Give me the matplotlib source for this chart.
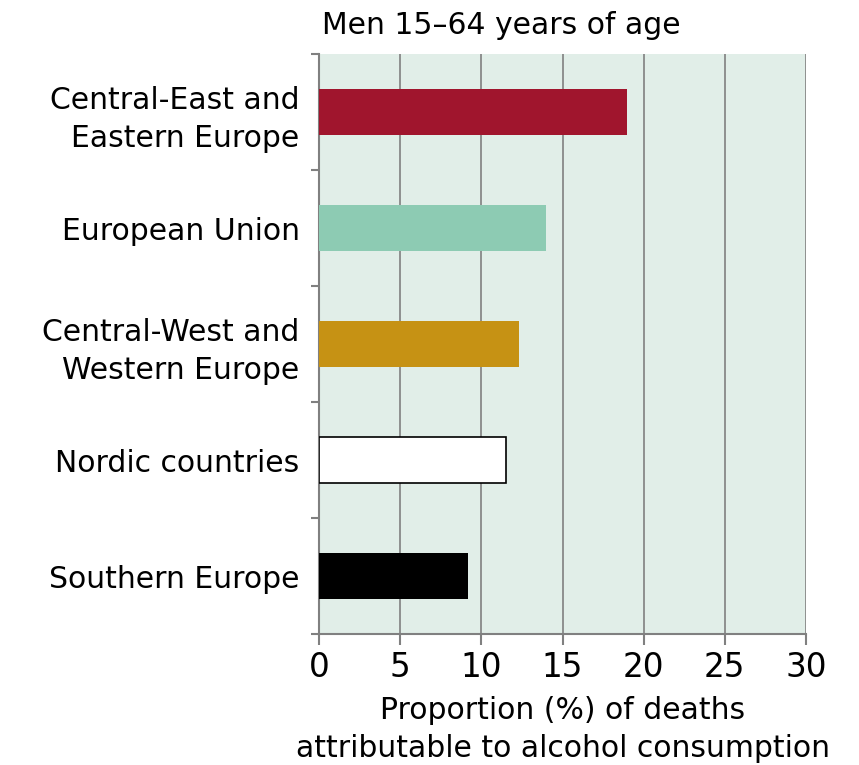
import matplotlib
matplotlib.use("Agg")
import matplotlib.pyplot as plt

categories = ["Central-East and\nEastern Europe", "European Union",
              "Central-West and\nWestern Europe", "Nordic countries", "Southern Europe"]
values = [19.0, 14.0, 12.3, 11.5, 9.2]
colors = ["#A0152D", "#8DCBB3", "#C69214", "#FFFFFF", "#000000"]
edges = ["none", "none", "none", "#000000", "none"]
xticks = [0, 5, 10, 15, 20, 25, 30]

fig = plt.figure(figsize=(8.59, 7.65), dpi=100)
ax = fig.add_axes([319/859, 1-634/765, (806-319)/859, (634-54)/765])
ax.set_facecolor("#E1EEE8")

n = len(categories)
ypos = list(range(n))
for i, (v, c, e) in enumerate(zip(values, colors, edges)):
    ax.barh(i, v, height=0.4, color=c, edgecolor=e, linewidth=1.2 if e != "none" else 0, zorder=3)

ax.set_xlim(0, 30)
ax.set_ylim(n - 0.5, -0.5)
ax.set_xticks(xticks)
ax.set_xticklabels([str(t) for t in xticks], fontsize=23.5)
ax.set_yticks(ypos)
ax.set_yticklabels(categories, fontsize=21.5, linespacing=1.4)
ax.tick_params(axis="y", length=0, pad=14)
ax.set_yticks([i - 0.5 for i in range(n + 1)], minor=True)
ax.tick_params(axis="y", which="minor", length=6, color="#808080", width=1.5)
ax.tick_params(axis="x", length=8, color="#808080", width=1.5, pad=4)
ax.grid(axis="x", color="#808080", linewidth=1.2, zorder=1)
ax.set_axisbelow(True)
for s in ["top", "right"]:
    ax.spines[s].set_visible(False)
for s in ["left", "bottom"]:
    ax.spines[s].set_color("#808080")
    ax.spines[s].set_linewidth(1.5)

ax.set_xlabel("Proportion (%) of deaths\nattributable to alcohol consumption", fontsize=21.5,
              labelpad=9, linespacing=1.4)
fig.text(322/859, 1-25/765, "Men 15\u201364 years of age", fontsize=21.5, ha="left", va="center")

fig.savefig("out.png", dpi=100)
